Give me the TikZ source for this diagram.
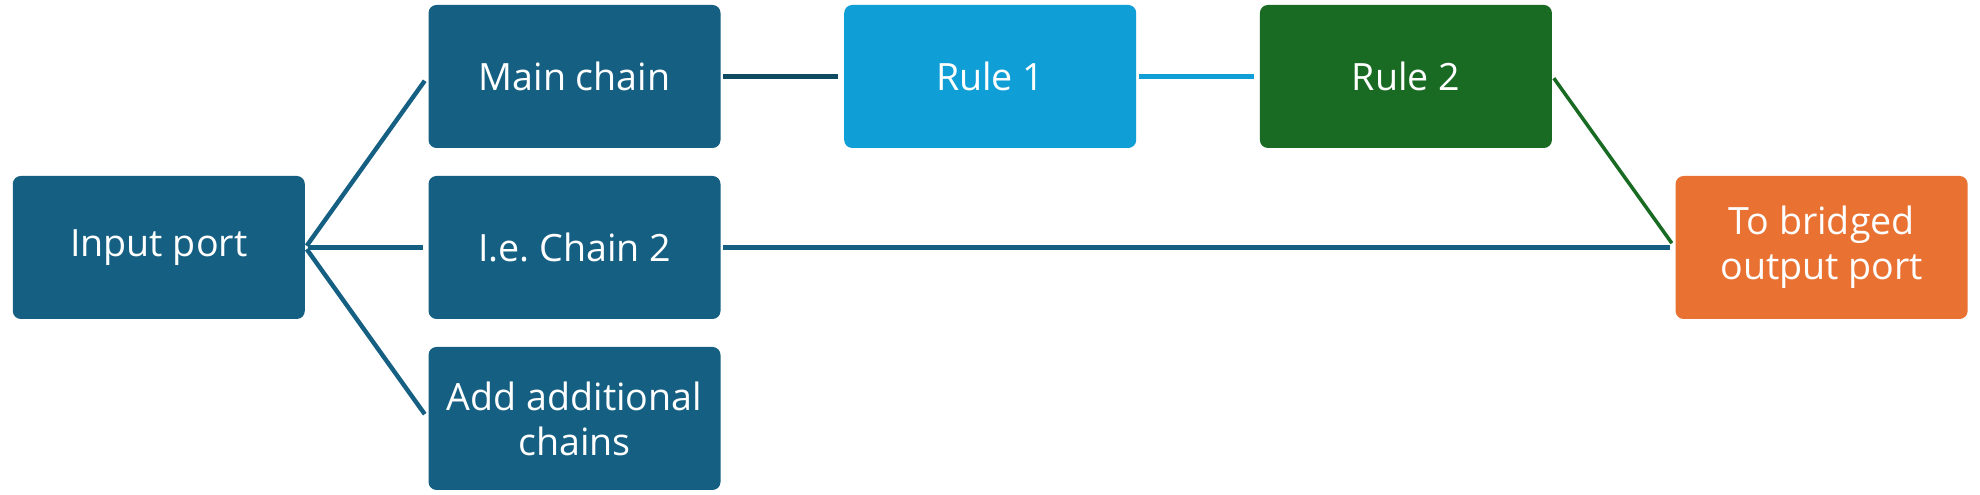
\documentclass[tikz,border=0pt]{standalone}
\usepackage{fontspec}
\setmainfont{Open Sans}
\definecolor{teal1}{HTML}{156082}
\definecolor{tealdark}{HTML}{0F4B60}
\definecolor{sky1}{HTML}{0F9ED5}
\definecolor{green1}{HTML}{196B24}
\definecolor{orange1}{HTML}{E97132}
\begin{document}
\begin{tikzpicture}[
    box/.style={rectangle, rounded corners=0.08cm, minimum width=2.92cm, minimum height=1.43cm,
      inner sep=0pt, align=center, text=white, font=\fontsize{10.7}{12.8}\selectfont},
    link/.style={line width=1.25pt, shorten <=0.6pt, shorten >=1.5pt}]
    \fill [white] (0,0) rectangle (19.8,4.95);
    \node [box, fill=teal1] (in) at (1.588,2.475) {Input port};
    \node [box, fill=teal1] (main) at (5.745,4.185) {Main chain};
    \node [box, fill=teal1] (chaintwo) at (5.745,2.475) {I.e.\ Chain 2};
    \node [box, fill=teal1] (more) at (5.745,0.765) {Add additional\\chains};
    \node [box, fill=sky1] (ruleone) at (9.902,4.185) {Rule 1};
    \node [box, fill=green1] (ruletwo) at (14.059,4.185) {Rule 2};
    \node [box, fill=orange1] (out) at (18.216,2.475) {To bridged\\output port};
    \draw [link, teal1] (in.east) -- (main.west);
    \draw [link, teal1] (in.east) -- (chaintwo.west);
    \draw [link, teal1] (in.east) -- (more.west);
    \draw [link, tealdark, line width=1.4pt] (main.east) -- (ruleone.west);
    \draw [link, sky1] (ruleone.east) -- (ruletwo.west);
    \draw [link, green1, line width=1pt] (ruletwo.east) -- (out.west);
    \draw [link, teal1] (chaintwo.east) -- (out.west);
  \end{tikzpicture}
\end{document}
